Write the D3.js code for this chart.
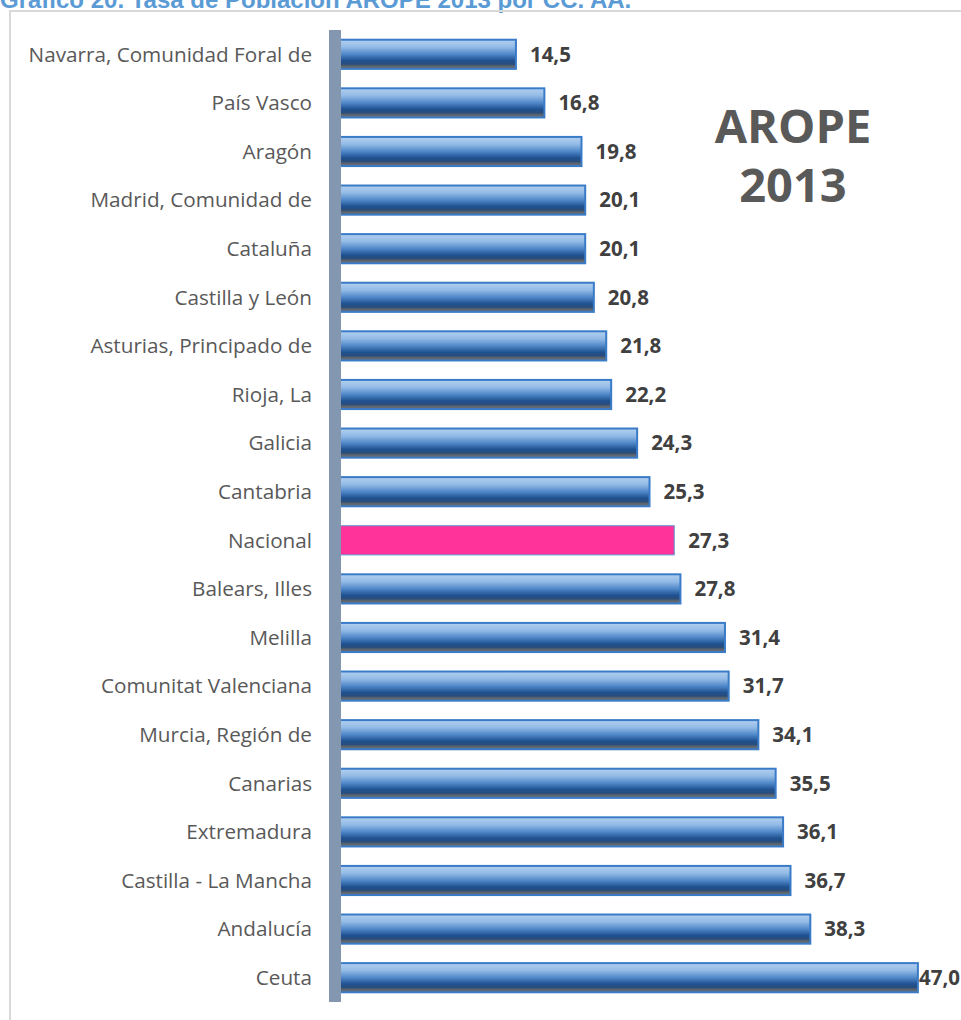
<!DOCTYPE html>
<html>
<head>
<meta charset="utf-8">
<script src="https://cdn.jsdelivr.net/npm/d3@7"></script>
<style>
  body { margin: 0; background: #fff; }
  svg { display: block; }
</style>
</head>
<body>
<script>
const regions = [
  "Navarra, Comunidad Foral de", "País Vasco", "Aragón", "Madrid, Comunidad de",
  "Cataluña", "Castilla y León", "Asturias, Principado de", "Rioja, La", "Galicia",
  "Cantabria", "Nacional", "Balears, Illes", "Melilla", "Comunitat Valenciana",
  "Murcia, Región de", "Canarias", "Extremadura", "Castilla - La Mancha",
  "Andalucía", "Ceuta"
];
const values = [14.5, 16.8, 19.8, 20.1, 20.1, 20.8, 21.8, 22.2, 24.3, 25.3,
  27.3, 27.8, 31.4, 31.7, 34.1, 35.5, 36.1, 36.7, 38.3, 47.0];
const highlight = "Nacional";
const title = "Gráfico 20. Tasa de Población AROPE 2013 por CC. AA.";
const stamp = ["AROPE", "2013"];

const W = 961, H = 1020;
const data = regions.map((r, i) => ({region: r, value: values[i]}));

const svg = d3.select("body").append("svg").attr("width", W).attr("height", H);

// bar gradient, light top to dark bottom like the excel preset
const defs = svg.append("defs");
const grad = defs.append("linearGradient").attr("id", "barGrad")
  .attr("x1", 0).attr("y1", 0).attr("x2", 0).attr("y2", 1);
[[0, "#b3d0ef"], [0.25, "#93bbe6"], [0.5, "#4f87c8"], [0.72, "#1f5190"],
 [0.84, "#2a4d7a"], [0.9, "#5a636d"], [1, "#6b737c"]]
  .forEach(([o, c]) => grad.append("stop").attr("offset", o).attr("stop-color", c));

// title, cut off at the top like in the source image
svg.append("text").attr("x", 0).attr("y", 7.5)
  .attr("font-family", "Liberation Sans, Arial, sans-serif")
  .attr("font-weight", "bold").attr("font-size", 24)
  .attr("fill", "#5b9bd5").text(title);

// chart frame
svg.append("rect").attr("x", 10).attr("y", 11).attr("width", W).attr("height", H)
  .attr("fill", "none").attr("stroke", "#d9d9d9").attr("stroke-width", 2);

const x = d3.scaleLinear().domain([0, 50]).range([336.6, 955]);
const y = d3.scaleBand().domain(regions).range([30, 1002]).paddingInner(0.4).paddingOuter(0.2);

const bars = svg.append("g");
bars.selectAll("rect").data(data).join("rect")
  .attr("x", x(0))
  .attr("y", d => y(d.region))
  .attr("width", d => x(d.value) - x(0))
  .attr("height", y.bandwidth())
  .attr("fill", d => d.region === highlight ? "#ff3399" : "url(#barGrad)")
  .attr("stroke", d => d.region === highlight ? "#5b9bd5" : "#3a7bc8")
  .attr("stroke-width", d => d.region === highlight ? 1 : 2);

// category axis drawn as the thick grey-blue band
svg.append("rect").attr("x", 329).attr("y", 30).attr("width", 12).attr("height", 972)
  .attr("fill", "#8497b0");

svg.append("g").selectAll("text").data(data).join("text")
  .attr("x", 312)
  .attr("y", d => y(d.region) + y.bandwidth() / 2)
  .attr("dy", "0.35em")
  .attr("text-anchor", "end")
  .attr("font-family", "Open Sans, sans-serif")
  .attr("font-size", 20.7)
  .attr("fill", "#595959")
  .text(d => d.region);

// value labels; excel pushes the last one back inside the chart area
const fmt = v => d3.format(".1f")(v).replace(".", ",");
svg.append("g").selectAll("text").data(data).join("text")
  .attr("x", d => Math.min(x(d.value) + 14, 919))
  .attr("y", d => y(d.region) + y.bandwidth() / 2)
  .attr("dy", "0.36em")
  .attr("font-family", "Open Sans, sans-serif")
  .attr("font-weight", "bold")
  .attr("font-size", 20.5)
  .attr("fill", "#404040")
  .text(d => fmt(d.value));

const st = svg.append("text").attr("text-anchor", "middle")
  .attr("font-family", "Open Sans, sans-serif").attr("font-weight", "bold")
  .attr("font-size", 47).attr("fill", "#595959");
st.append("tspan").attr("x", 793).attr("y", 143).text(stamp[0]);
st.append("tspan").attr("x", 793).attr("y", 202).text(stamp[1]);
</script>
</body>
</html>
